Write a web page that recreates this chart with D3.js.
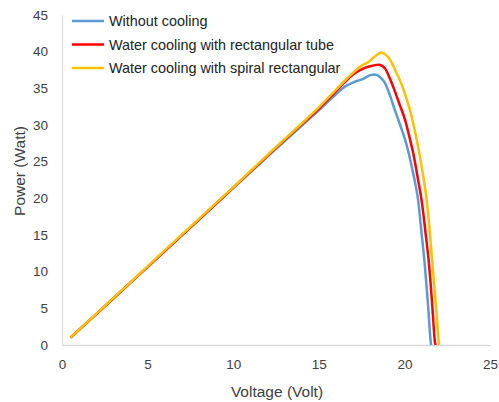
<!DOCTYPE html>
<html><head><meta charset="utf-8">
<script src="https://cdn.jsdelivr.net/npm/d3@7"></script>
<style>body{margin:0;background:#fff}svg{display:block}text{font-family:"Liberation Sans",Arial,sans-serif}</style>
</head><body><svg id="c" width="499" height="402"></svg>
<script>
const seriesNames = ["Without cooling","Water cooling with rectangular tube","Water cooling with spiral rectangular"];
const seriesColors = ["#5B9BD5","#FF0000","#FFC000"];
const xTicks = [0,5,10,15,20,25];
const yTicks = [0,5,10,15,20,25,30,35,40,45];

const blueV = [0.5,2,4,6,8,10,12,14,15,16,16.5,17.1,17.6,18.0,18.28,18.6,18.87,19.16,19.45,19.75,20.04,20.25,20.43,20.62,20.8,21.0,21.2,21.38,21.53,21.56];
const blueP = [1,4.2,8.5,12.8,17.1,21.4,25.7,29.9,32.0,34.2,35.2,35.9,36.3,36.8,36.9,36.5,35.7,34.0,32.0,30.0,28.0,26.2,24.3,22.2,19.8,15.3,10.7,5.5,0.6,0];
const redV = [0.5,2,4,6,8,10,12,14,15,16,16.5,17.0,17.5,18.0,18.5,18.87,19.16,19.45,19.75,20.04,20.3,20.52,20.8,21.0,21.25,21.45,21.63,21.79,21.82];
const redP = [1,4.2,8.5,12.8,17.1,21.45,25.8,30.1,32.2,34.6,35.8,36.9,37.6,38.0,38.2,37.7,36.3,34.55,32.6,30.7,28.3,26.1,22.5,19.8,15.0,10.7,5.3,0.3,0];
const yellowV = [0.5,2,4,6,8,10,12,14,15,16,16.5,17.0,17.5,17.9,18.2,18.67,18.9,19.16,19.5,19.84,20.15,20.43,20.62,20.8,21.1,21.3,21.5,21.65,21.85,22.0,22.03];
const yellowP = [1,4.25,8.55,12.9,17.2,21.5,25.9,30.2,32.4,34.8,36.0,37.1,38.1,38.6,39.2,39.9,39.6,38.9,37.3,35.5,33.4,31.1,29.1,27.05,23.0,19.8,15.0,10.7,5.2,0.6,0];

const svg = d3.select("#c");
const x = d3.scaleLinear().domain([0,25]).range([62,490]);
const y = d3.scaleLinear().domain([0,45]).range([345,15]);

// axes
const xAxis = svg.append("g").attr("transform","translate(0,345)")
  .call(d3.axisBottom(x).tickValues(xTicks).tickSize(0).tickPadding(14));
const yAxis = svg.append("g").attr("transform","translate(62,0)")
  .call(d3.axisLeft(y).tickValues(yTicks).tickSize(0).tickPadding(14));
[xAxis,yAxis].forEach(g=>{
  g.select(".domain").attr("stroke","#d9d9d9").attr("stroke-width",1.3);
  g.selectAll("text").attr("fill","#404040").style("font-size","13.5px").style("font-family","'Liberation Sans',Arial,sans-serif");
});

const data = [[blueV,blueP],[redV,redP],[yellowV,yellowP]];
const line = d3.line().x(d=>x(d[0])).y(d=>y(d[1])).curve(d3.curveMonotoneX);
data.forEach((s,i)=>{
  const pts = s[0].map((v,j)=>[v,s[1][j]]);
  svg.append("path").datum(pts).attr("d",line).attr("fill","none")
    .attr("stroke",seriesColors[i]).attr("stroke-width",2.5).attr("stroke-linejoin","round");
});

// legend
const leg = svg.append("g");
seriesNames.forEach((n,i)=>{
  const yy = 21 + i*23.5;
  leg.append("line").attr("x1",72).attr("x2",104).attr("y1",yy).attr("y2",yy)
    .attr("stroke",seriesColors[i]).attr("stroke-width",2.5);
  leg.append("text").attr("x",109).attr("y",yy+5).text(n)
    .attr("fill","#222").style("font-size","14.4px");
});

// titles
svg.append("text").attr("x",277).attr("y",397).attr("text-anchor","middle")
  .attr("fill","#404040").style("font-size","15.5px").text("Voltage (Volt)");
svg.append("text").attr("transform","translate(25,171) rotate(-90)").attr("text-anchor","middle")
  .attr("fill","#404040").style("font-size","15.5px").text("Power (Watt)");
</script></body></html>
